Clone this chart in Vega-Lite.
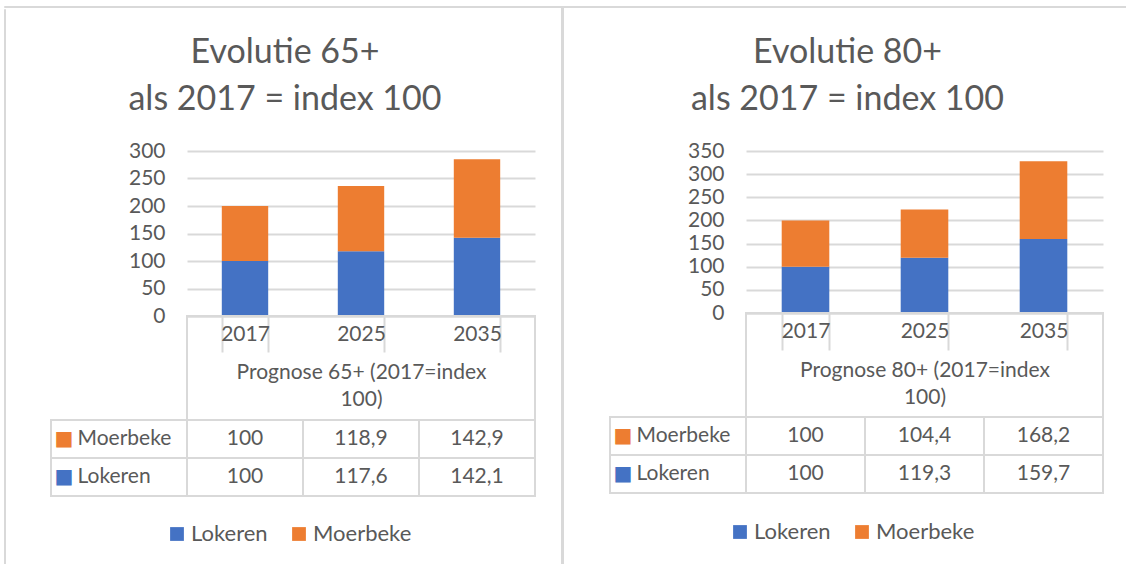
{
  "$schema": "https://vega.github.io/schema/vega-lite/v6.json",
  "padding": {"left": 3, "top": 5, "right": 0, "bottom": 0},
  "datasets": {
    "d65": [
      {"year": "2017", "series": "Lokeren", "value": 100},
      {"year": "2025", "series": "Lokeren", "value": 117.6},
      {"year": "2035", "series": "Lokeren", "value": 142.1},
      {"year": "2017", "series": "Moerbeke", "value": 100},
      {"year": "2025", "series": "Moerbeke", "value": 118.9},
      {"year": "2035", "series": "Moerbeke", "value": 142.9}
    ],
    "d80": [
      {"year": "2017", "series": "Lokeren", "value": 100},
      {"year": "2025", "series": "Lokeren", "value": 119.3},
      {"year": "2035", "series": "Lokeren", "value": 159.7},
      {"year": "2017", "series": "Moerbeke", "value": 100},
      {"year": "2025", "series": "Moerbeke", "value": 104.4},
      {"year": "2035", "series": "Moerbeke", "value": 168.2}
    ],
    "rows": [{"series": "Moerbeke"}, {"series": "Lokeren"}],
    "none": []
  },
  "spacing": 0,
  "vconcat": [
    {"width": 1122, "height": 1, "data": {"name": "none"}, "mark": "point", "view": {"stroke": "#d9d9d9", "strokeWidth": 1}},
    {
      "spacing": 0,
      "resolve": {"scale": {"color": "independent"}, "legend": {"color": "independent"}},
      "hconcat": [
        {"width": 1, "height": 558, "data": {"name": "none"}, "mark": "point", "view": {"stroke": "#d9d9d9", "strokeWidth": 1}},
        {"width": 44, "height": 1, "data": {"name": "none"}, "mark": "point"},
        {
          "columns": 2,
          "spacing": 0,
          "bounds": "flush",
          "concat": [
            {"width": 136, "height": 142, "data": {"name": "none"}, "mark": "point"},
            {"width": 1, "height": 142, "data": {"name": "none"}, "mark": "point"},
            {"width": 136, "height": 165, "data": {"name": "none"}, "mark": "point"},
            {
              "width": 348, "height": 165,
              "data": {"name": "d65"},
              "title": {"text": ["Evolutie 65+", "als 2017 = index 100"], "dx": -76, "offset": 23},
              "mark": {"type": "bar"},
              "encoding": {
                "x": {"field": "year", "type": "nominal", "sort": null,
                  "scale": {"paddingInner": 0.6, "paddingOuter": 0.3},
                  "axis": {"labelAngle": 0, "domainColor": "#d9d9d9", "domainWidth": 2, "tickBand": "extent", "tickSize": 36, "tickColor": "#d9d9d9", "tickWidth": 2, "labelPadding": -29, "title": ["Prognose 65+ (2017=index", "100)"], "titlePadding": 8, "titleLineHeight": 27}},
                "y": {"field": "value", "type": "quantitative", "stack": "zero",
                  "scale": {"domain": [0, 300], "nice": false},
                  "axis": {"values": [0, 50, 100, 150, 200, 250, 300], "domain": false, "ticks": false, "tickSize": 0, "labelPadding": 22, "gridColor": "#d9d9d9", "gridWidth": 2, "title": null}},
                "order": {"field": "series", "sort": "ascending"},
                "color": {"field": "series", "type": "nominal",
                  "scale": {"domain": ["Lokeren", "Moerbeke"], "range": ["#4472c4", "#ed7d31"]},
                  "legend": {"orient": "none", "direction": "horizontal", "title": null, "legendX": 115, "legendY": 514}}
              }
            },
            {"width": 136, "height": 104, "data": {"name": "none"}, "mark": "point"},
            {"width": 348, "height": 104, "data": {"name": "none"}, "mark": "point", "view": {"stroke": "#d9d9d9", "strokeWidth": 2}},
            {
              "width": 136, "height": 76,
              "data": {"name": "rows"},
              "mark": {"type": "rect", "fillOpacity": 0, "stroke": "#d9d9d9", "strokeWidth": 2},
              "encoding": {
                "y": {"field": "series", "type": "nominal", "sort": ["Moerbeke", "Lokeren"],
                  "scale": {"paddingInner": 0, "paddingOuter": 0},
                  "axis": {"labelAlign": "left", "labelPadding": -26, "ticks": false, "tickSize": 0, "domain": false, "title": null, "zindex": 1}}
              }
            },
            {
              "width": 348, "height": 76,
              "data": {"name": "d65"},
              "encoding": {
                "x": {"field": "year", "type": "nominal", "sort": null, "scale": {"paddingInner": 0, "paddingOuter": 0}, "axis": null},
                "y": {"field": "series", "type": "nominal", "sort": ["Moerbeke", "Lokeren"],
                  "scale": {"paddingInner": 0, "paddingOuter": 0},
                  "axis": {"labelExpr": "'■'", "labelColor": {"condition": {"test": "datum.value === 'Lokeren'", "value": "#4472c4"}, "value": "#ed7d31"}, "labelFont": "DejaVu Sans", "labelFontSize": 20, "labelAlign": "left", "labelPadding": 133, "ticks": false, "tickSize": 0, "domain": false, "title": null, "zindex": 1}}
              },
              "layer": [
                {"mark": {"type": "rect", "fillOpacity": 0, "stroke": "#d9d9d9", "strokeWidth": 2}},
                {"mark": {"type": "text", "color": "#595959", "fontSize": 21}, "encoding": {"text": {"field": "value", "type": "quantitative", "format": ".1~f"}}}
              ]
            }
          ]
        },
        {"width": 25, "height": 1, "data": {"name": "none"}, "mark": "point"},
        {"width": 1, "height": 558, "data": {"name": "none"}, "mark": "point", "view": {"stroke": "#d9d9d9", "strokeWidth": 2}},
        {"width": 45, "height": 1, "data": {"name": "none"}, "mark": "point"},
        {
          "columns": 2,
          "spacing": 0,
          "bounds": "flush",
          "concat": [
            {"width": 136, "height": 142, "data": {"name": "none"}, "mark": "point"},
            {"width": 1, "height": 142, "data": {"name": "none"}, "mark": "point"},
            {"width": 136, "height": 162, "data": {"name": "none"}, "mark": "point"},
            {
              "width": 357, "height": 162,
              "data": {"name": "d80"},
              "title": {"text": ["Evolutie 80+", "als 2017 = index 100"], "dx": -77, "offset": 23},
              "mark": {"type": "bar"},
              "encoding": {
                "x": {"field": "year", "type": "nominal", "sort": null,
                  "scale": {"paddingInner": 0.6, "paddingOuter": 0.3},
                  "axis": {"labelAngle": 0, "domainColor": "#d9d9d9", "domainWidth": 2, "tickBand": "extent", "tickSize": 37, "tickColor": "#d9d9d9", "tickWidth": 2, "labelPadding": -30, "title": ["Prognose 80+ (2017=index", "100)"], "titlePadding": 8, "titleLineHeight": 27}},
                "y": {"field": "value", "type": "quantitative", "stack": "zero",
                  "scale": {"domain": [0, 350], "nice": false},
                  "axis": {"values": [0, 50, 100, 150, 200, 250, 300, 350], "domain": false, "ticks": false, "tickSize": 0, "labelPadding": 22, "gridColor": "#d9d9d9", "gridWidth": 2, "title": null}},
                "order": {"field": "series", "sort": "ascending"},
                "color": {"field": "series", "type": "nominal",
                  "scale": {"domain": ["Lokeren", "Moerbeke"], "range": ["#4472c4", "#ed7d31"]},
                  "legend": {"orient": "none", "direction": "horizontal", "title": null, "legendX": 119, "legendY": 512}}
              }
            },
            {"width": 136, "height": 104, "data": {"name": "none"}, "mark": "point"},
            {"width": 357, "height": 104, "data": {"name": "none"}, "mark": "point", "view": {"stroke": "#d9d9d9", "strokeWidth": 2}},
            {
              "width": 136, "height": 76,
              "data": {"name": "rows"},
              "mark": {"type": "rect", "fillOpacity": 0, "stroke": "#d9d9d9", "strokeWidth": 2},
              "encoding": {
                "y": {"field": "series", "type": "nominal", "sort": ["Moerbeke", "Lokeren"],
                  "scale": {"paddingInner": 0, "paddingOuter": 0},
                  "axis": {"labelAlign": "left", "labelPadding": -26, "ticks": false, "tickSize": 0, "domain": false, "title": null, "zindex": 1}}
              }
            },
            {
              "width": 357, "height": 76,
              "data": {"name": "d80"},
              "encoding": {
                "x": {"field": "year", "type": "nominal", "sort": null, "scale": {"paddingInner": 0, "paddingOuter": 0}, "axis": null},
                "y": {"field": "series", "type": "nominal", "sort": ["Moerbeke", "Lokeren"],
                  "scale": {"paddingInner": 0, "paddingOuter": 0},
                  "axis": {"labelExpr": "'■'", "labelColor": {"condition": {"test": "datum.value === 'Lokeren'", "value": "#4472c4"}, "value": "#ed7d31"}, "labelFont": "DejaVu Sans", "labelFontSize": 20, "labelAlign": "left", "labelPadding": 133, "ticks": false, "tickSize": 0, "domain": false, "title": null, "zindex": 1}}
              },
              "layer": [
                {"mark": {"type": "rect", "fillOpacity": 0, "stroke": "#d9d9d9", "strokeWidth": 2}},
                {"mark": {"type": "text", "color": "#595959", "fontSize": 21}, "encoding": {"text": {"field": "value", "type": "quantitative", "format": ".1~f"}}}
              ]
            }
          ]
        }
      ]
    }
  ],
  "config": {
    "font": "Lato",
    "view": {"stroke": null},
    "locale": {"number": {"decimal": ",", "thousands": ".", "grouping": [3], "currency": ["", " €"]}},
    "text": {"font": "Lato"},
    "axis": {"labelFont": "Lato", "labelFontSize": 21, "labelColor": "#595959", "titleFont": "Lato", "titleFontSize": 21, "titleColor": "#595959", "titleFontWeight": "normal"},
    "legend": {"labelFont": "Lato", "labelFontSize": 22, "labelColor": "#595959", "symbolType": "square", "symbolSize": 190, "symbolStrokeWidth": 0, "columnPadding": 20, "labelOffset": 3},
    "title": {"font": "Lato", "fontSize": 34, "fontWeight": "normal", "color": "#595959", "lineHeight": 47, "anchor": "middle", "frame": "group"}
  }
}
